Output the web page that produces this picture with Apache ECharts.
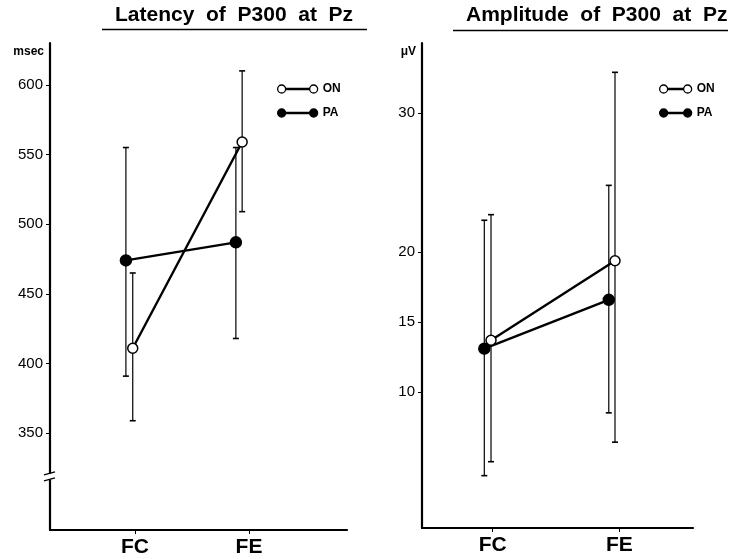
<!DOCTYPE html>
<html><head><meta charset="utf-8">
<script src="https://cdn.jsdelivr.net/npm/echarts@6/dist/echarts.min.js"></script>
<style>html,body{margin:0;padding:0;background:#fff}#c{width:732px;height:559px}</style>
</head><body><div id="c"></div>
<script>
// ---- data ----
const categories = ['FC', 'FE'];
const seriesNames = ['ON', 'PA'];
const latencyTicks = [350, 400, 450, 500, 550, 600];
const amplitudeTicks = [10, 15, 20, 30];

const latencyON = [411, 559];
const latencyONLow = [359, 509];
const latencyONHigh = [465, 610];
const latencyPA = [474, 487];
const latencyPALow = [391, 418];
const latencyPAHigh = [555, 555];

const amplitudeON = [13.7, 19.4];
const amplitudeONLow = [5.0, 6.4];
const amplitudeONHigh = [22.7, 32.9];
const amplitudePA = [13.1, 16.6];
const amplitudePALow = [4.0, 8.5];
const amplitudePAHigh = [22.3, 24.8];

// ---- style (horizontal jitter of each group around its category) ----
const offLeft = { ON: [-0.02, -0.06], PA: [-0.08, -0.115] };
const offRight = { ON: [-0.013, -0.034], PA: [-0.066, -0.083] };
const FONT = 'Liberation Sans';

function pts(vals, off) { return vals.map((v, i) => [i + off[i], v]); }
function bars(lo, hi, off) { return lo.map((l, i) => [i + off[i], l, hi[i]]); }

function errRender(params, api) {
  const x = api.value(0), lo = api.value(1), hi = api.value(2);
  const a = api.coord([x, hi]), b = api.coord([x, lo]);
  const w = 3;
  const st = { stroke: '#000', lineWidth: 1.2 };
  return { type: 'group', children: [
    { type: 'line', shape: { x1: a[0], y1: a[1], x2: b[0], y2: b[1] }, style: st },
    { type: 'line', shape: { x1: a[0] - w, y1: a[1], x2: a[0] + w, y2: a[1] }, style: { stroke: '#000', lineWidth: 1.6 } },
    { type: 'line', shape: { x1: b[0] - w, y1: b[1], x2: b[0] + w, y2: b[1] }, style: { stroke: '#000', lineWidth: 1.6 } }
  ]};
}

const iconLeft = 'path://M0,5a4,4 0 1,0 8,0a4,4 0 1,0 -8,0zM8,4.4h24v1.2h-24zM32,5a4,4 0 1,0 8,0a4,4 0 1,0 -8,0z';
const iconRight = 'path://M0,5a4,4 0 1,0 8,0a4,4 0 1,0 -8,0zM8,4.4h16v1.2h-16zM24,5a4,4 0 1,0 8,0a4,4 0 1,0 -8,0z';

function legendData(icon) {
  return [
    { name: 'ON', icon: icon, itemStyle: { color: '#fff', borderColor: '#000', borderWidth: 1.3 } },
    { name: 'PA', icon: icon, itemStyle: { color: '#000', borderColor: '#000', borderWidth: 1.3 } }
  ];
}

function xAxisCfg(grid, min, max) {
  return {
    type: 'value', gridIndex: grid, min: min, max: max,
    splitLine: { show: false },
    axisLine: { show: true, onZero: false, lineStyle: { color: '#000', width: 2.2 } },
    axisTick: { show: true, customValues: [0, 1], length: 4, lineStyle: { color: '#000', width: 1 } },
    axisLabel: { customValues: [0, 1], formatter: v => categories[Math.round(v)], fontSize: 21, fontWeight: 'bold', color: '#000', margin: 7, fontFamily: FONT }
  };
}
function yAxisCfg(grid, min, max, ticks, name) {
  return {
    type: 'value', gridIndex: grid, min: min, max: max,
    name: name, nameLocation: 'end', nameGap: -9,
    nameTextStyle: { align: 'right', verticalAlign: 'middle', padding: [0, 6, 0, 0], fontSize: 12, fontWeight: 'bold', color: '#000', fontFamily: FONT },
    splitLine: { show: false },
    axisLine: { show: true, onZero: false, lineStyle: { color: '#000', width: 2.2 } },
    axisTick: { show: true, customValues: ticks, length: 4, lineStyle: { color: '#000', width: 1 } },
    axisLabel: { customValues: ticks, fontSize: 15, color: '#000', margin: 7, fontFamily: FONT }
  };
}

function lineSeries(name, xi, yi, data) {
  const open = name === 'ON';
  return {
    type: 'line', name: name, xAxisIndex: xi, yAxisIndex: yi, data: data,
    symbol: 'circle', symbolSize: open ? 10 : 11, z: 5,
    lineStyle: { color: '#000', width: 2.4 },
    itemStyle: { color: open ? '#fff' : '#000', borderColor: '#000', borderWidth: 1.5 }
  };
}
function errSeries(name, xi, yi, data) {
  return {
    type: 'custom', name: name, xAxisIndex: xi, yAxisIndex: yi, data: data,
    renderItem: errRender, encode: { x: 0, y: [1, 2] }, z: 3, silent: true
  };
}

const chart = echarts.init(document.getElementById('c'), null, { renderer: 'canvas' });
const option = {
  animation: false,
  backgroundColor: '#fff',
  textStyle: { fontFamily: FONT, color: '#000' },
  title: [
    { text: 'Latency  of  P300  at  Pz', left: 115, top: 5, padding: 0, textStyle: { fontSize: 21, fontWeight: 'bold', color: '#000', fontFamily: FONT } },
    { text: 'Amplitude  of  P300  at  Pz', left: 466, top: 5, padding: 0, textStyle: { fontSize: 21, fontWeight: 'bold', color: '#000', fontFamily: FONT } }
  ],
  legend: [
    { orient: 'vertical', left: 277, top: 83, padding: 0, itemWidth: 40, itemHeight: 10, itemGap: 12, data: legendData(iconLeft), textStyle: { fontSize: 12, fontWeight: 'bold', color: '#000', fontFamily: FONT } },
    { orient: 'vertical', left: 659, top: 83, padding: 0, itemWidth: 32, itemHeight: 10, itemGap: 12, data: legendData(iconRight), textStyle: { fontSize: 12, fontWeight: 'bold', color: '#000', fontFamily: FONT } }
  ],
  grid: [
    { left: 50, top: 43, width: 297, height: 487 },
    { left: 422, top: 43, width: 271, height: 485 }
  ],
  xAxis: [xAxisCfg(0, -0.746, 1.86), xAxisCfg(1, -0.558, 1.582)],
  yAxis: [yAxisCfg(0, 280.6, 630, latencyTicks, 'msec'), yAxisCfg(1, 0.25, 35, amplitudeTicks, 'μV')],
  series: [
    errSeries('PA', 0, 0, bars(latencyPALow, latencyPAHigh, offLeft.PA)),
    errSeries('ON', 0, 0, bars(latencyONLow, latencyONHigh, offLeft.ON)),
    lineSeries('PA', 0, 0, pts(latencyPA, offLeft.PA)),
    lineSeries('ON', 0, 0, pts(latencyON, offLeft.ON)),
    errSeries('PA', 1, 1, bars(amplitudePALow, amplitudePAHigh, offRight.PA)),
    errSeries('ON', 1, 1, bars(amplitudeONLow, amplitudeONHigh, offRight.ON)),
    lineSeries('PA', 1, 1, pts(amplitudePA, offRight.PA)),
    lineSeries('ON', 1, 1, pts(amplitudeON, offRight.ON))
  ]
};
chart.setOption(option);

// decorations: title underlines and the axis break mark on the latency axis
const brk = chart.convertToPixel({ xAxisIndex: 0, yAxisIndex: 0 }, [-0.746, 319]);
const bx = brk[0], by = brk[1];
chart.setOption({
  graphic: [
    { type: 'line', shape: { x1: 102, y1: 29.5, x2: 367, y2: 29.5 }, style: { stroke: '#000', lineWidth: 1.5 } },
    { type: 'line', shape: { x1: 453, y1: 30.5, x2: 728, y2: 30.5 }, style: { stroke: '#000', lineWidth: 1.5 } },
    { type: 'rect', shape: { x: bx - 3, y: by - 3, width: 6, height: 6 }, style: { fill: '#fff' }, z: 100 },
    { type: 'line', shape: { x1: bx - 6, y1: by - 1.5, x2: bx + 5, y2: by - 4.5 }, style: { stroke: '#000', lineWidth: 1.3 }, z: 101 },
    { type: 'line', shape: { x1: bx - 6, y1: by + 4.5, x2: bx + 5, y2: by + 1.5 }, style: { stroke: '#000', lineWidth: 1.3 }, z: 101 }
  ]
});
</script>
</body></html>
